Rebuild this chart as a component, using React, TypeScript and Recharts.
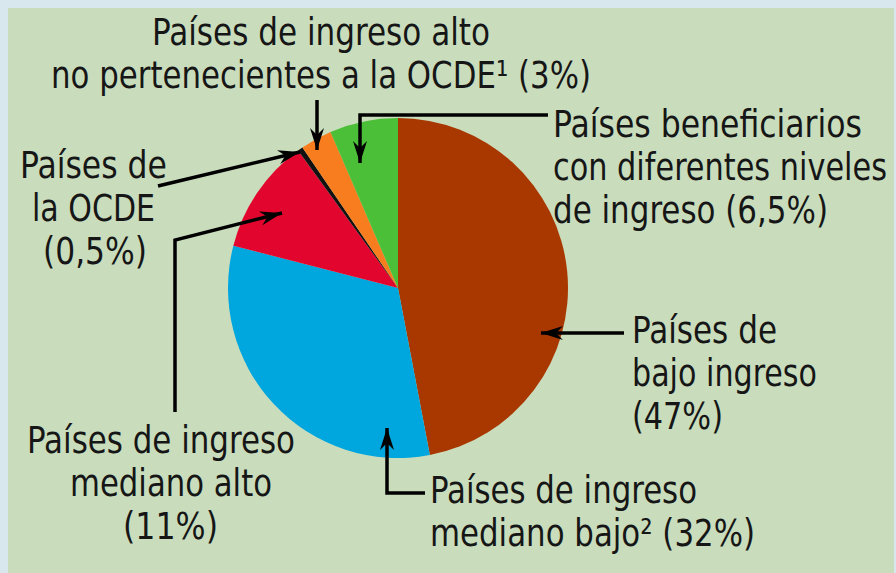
import { PieChart, Pie, Cell } from 'recharts';

// Slices, clockwise from 12 o'clock
const categories = [
  'Países de bajo ingreso',
  'Países de ingreso mediano bajo',
  'Países de ingreso mediano alto',
  'Países de la OCDE',
  'Países de ingreso alto no pertenecientes a la OCDE',
  'Países beneficiarios con diferentes niveles de ingreso',
];
const shares = [47, 32, 11, 0.5, 3, 6.5];
const sliceColors = ['#a83800', '#00a6de', '#e2062e', '#111111', '#f77d1f', '#4cbf38'];

// Label text, one array of lines per slice
const labelLines = [
  ['Países de', 'bajo ingreso', '(47%)'],
  ['Países de ingreso', 'mediano bajo² (32%)'],
  ['Países de ingreso', 'mediano alto', '(11%)'],
  ['Países de', 'la OCDE', '(0,5%)'],
  ['Países de ingreso alto', 'no pertenecientes a la OCDE¹ (3%)'],
  ['Países beneficiarios', 'con diferentes niveles', 'de ingreso (6,5%)'],
];

const data = categories.map((name, i) => ({ name, value: shares[i] }));

// annotation layout: first baseline, per-line left/width, leader path (last point = arrow tip)
const labelLayout = [
  { y: 343, xs: [632, 632, 632], ws: [145, 185, 91], path: [[624, 333], [541, 333]] },
  { y: 503, xs: [430, 430], ws: [267, 325], path: [[425, 493], [387, 493], [387, 428]] },
  { y: 453, xs: [27, 70, 123], ws: [268, 202, 95], path: [[175, 412], [175, 240], [282, 213]] },
  { y: 178, xs: [20, 32, 43], ws: [147, 123, 104], path: [[158, 186], [300, 152]] },
  { y: 45, xs: [152, 51], ws: [338, 540], path: [[317, 100], [317, 150]] },
  { y: 137, xs: [553, 553, 553], ws: [309, 334, 275], path: [[548, 115], [360, 115], [360, 163]] },
];

const FONT = "'Liberation Sans Narrow', 'DejaVu Sans Condensed', 'Arial Narrow', sans-serif";
const LINE_H = 43;

function arrowHead(path: number[][]) {
  const [x1, y1] = path[path.length - 2];
  const [x2, y2] = path[path.length - 1];
  const len = Math.hypot(x2 - x1, y2 - y1);
  const ux = (x2 - x1) / len;
  const uy = (y2 - y1) / len;
  const L = 22, W = 7, N = 15;
  const bx = x2 - ux * L, by = y2 - uy * L;
  const nx = x2 - ux * N, ny = y2 - uy * N;
  return `M${x2},${y2} L${bx - uy * W},${by + ux * W} L${nx},${ny} L${bx + uy * W},${by - ux * W} Z`;
}

function renderLabel(props: any) {
  const i = props.index;
  const lay = labelLayout[i];
  const lines = labelLines[i];
  const d = lay.path.map((p, k) => `${k === 0 ? 'M' : 'L'}${p[0]},${p[1]}`).join(' ');
  return (
    <g key={`lab-${i}`}>
      <path d={d} fill="none" stroke="#000" strokeWidth={3.5} />
      <path d={arrowHead(lay.path)} fill="#000" stroke="none" />
      {lines.map((t, k) => (
        <text
          key={k}
          x={lay.xs[k]}
          y={lay.y + k * LINE_H}
          textAnchor="start"
          textLength={lay.ws[k]}
          lengthAdjust="spacingAndGlyphs"
          fontFamily={FONT}
          fontSize={37}
          fill="#161616"
        >
          {t}
        </text>
      ))}
    </g>
  );
}

export default function App() {
  return (
    <div
      style={{
        position: 'absolute',
        left: 0,
        top: 0,
        width: 896,
        height: 573,
        background: '#d8e6ee',
        overflow: 'hidden',
      }}
    >
      <div
        style={{
          position: 'absolute',
          left: 8,
          top: 8,
          width: 886,
          height: 565,
          background: '#c9ddbd',
        }}
      />
      <div style={{ position: 'absolute', left: 0, top: 0 }}>
        <PieChart width={896} height={573} margin={{ top: 0, right: 0, bottom: 0, left: 0 }}>
          <Pie
            data={data}
            dataKey="value"
            nameKey="name"
            cx={398}
            cy={288}
            outerRadius={170}
            startAngle={90}
            endAngle={-270}
            stroke="none"
            label={renderLabel}
            labelLine={false}
            isAnimationActive={false}
          >
            {data.map((_, i) => (
              <Cell key={i} fill={sliceColors[i]} />
            ))}
          </Pie>
        </PieChart>
      </div>
    </div>
  );
}
